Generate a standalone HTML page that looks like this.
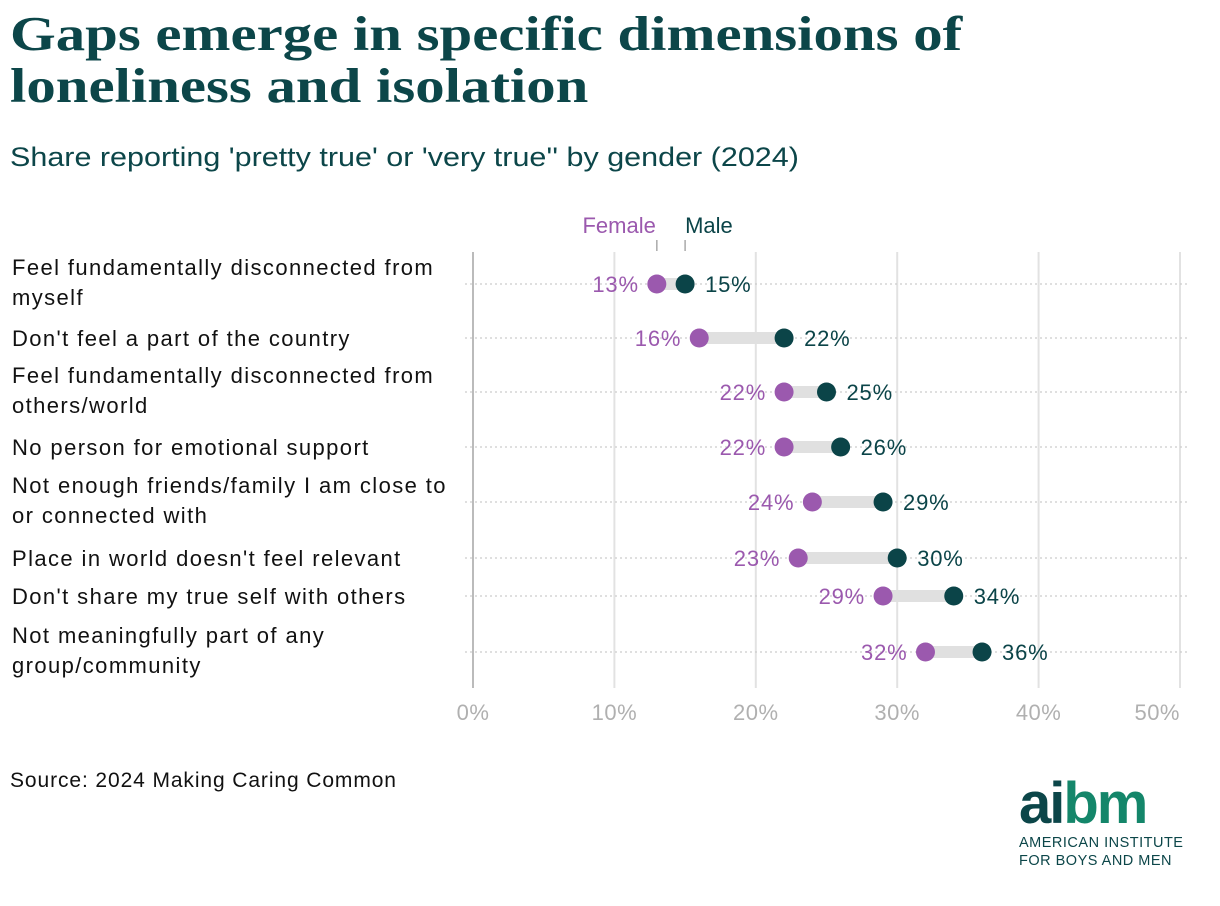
<!DOCTYPE html>
<html><head><meta charset="utf-8"><style>
body{margin:0;background:#fff;width:1220px;height:906px;overflow:hidden;font-family:"Liberation Sans",sans-serif}
.t{position:absolute;left:10px;top:8px;font-family:"Liberation Serif",serif;font-weight:bold;font-size:49px;line-height:52px;color:#0c4649;margin:0;transform:scaleX(1.2);transform-origin:left top;white-space:nowrap}
.s{position:absolute;left:10px;top:142px;font-size:27px;color:#0c4649;transform:scaleX(1.13);transform-origin:left top;white-space:nowrap}
</style></head><body>
<h1 class="t">Gaps emerge in specific dimensions of<br>loneliness and isolation</h1>
<div class="s">Share reporting 'pretty true' or 'very true'' by gender (2024)</div>
<svg id="c" width="1220" height="906" style="position:absolute;left:0;top:0"></svg>
<script>
const categories=[["Feel fundamentally disconnected from","myself"],["Don't feel a part of the country"],["Feel fundamentally disconnected from","others/world"],["No person for emotional support"],["Not enough friends/family I am close to","or connected with"],["Place in world doesn't feel relevant"],["Don't share my true self with others"],["Not meaningfully part of any","group/community"]];
const female=[13,16,22,22,24,23,29,32];
const male=[15,22,25,26,29,30,34,36];
const ticks=[0,10,20,30,40,50];
const rowY=[284,338,392,447,502,558,596,652];
const x=v=>473+v*14.14;
const svg=document.getElementById('c');const NS='http://www.w3.org/2000/svg';
function mk(t,a,txt){const e=document.createElementNS(NS,t);for(const k in a)e.setAttribute(k,a[k]);if(txt!=null)e.textContent=txt;svg.appendChild(e);return e;}
const F='#9b59ae',M='#0b4448',font='"Liberation Sans",sans-serif';
ticks.forEach((t,i)=>{const l=mk('line',{x1:x(t),x2:x(t),y1:252,y2:688,stroke:t===0?'#bbb':'#e2e2e2','stroke-width':2});


const last=i===ticks.length-1;
const tx=mk('text',{x:last?x(t):x(t),y:720,'text-anchor':last?'end':'middle','font-size':22,'letter-spacing':0.5,fill:'#b0b0b0','font-family':font},t+'%');

});
categories.forEach((c,i)=>{const y=rowY[i];
const g=mk('line',{x1:465,x2:1190,y1:y,y2:y,stroke:'#ccc','stroke-width':1.2,'stroke-dasharray':'2 3'});


const y0=c.length>1?y-9:y+8;
c.forEach((ln,j)=>{const t=mk('text',{x:12,y:y0+j*30,'font-size':22,'letter-spacing':1.4,fill:'#111','font-family':font},ln);

});
const b=mk('rect',{x:x(female[i]),y:y-6,width:x(male[i])-x(female[i]),height:12,fill:'#e0e0e0'});


const fd=mk('circle',{cx:x(female[i]),cy:y,r:9.5,fill:F});


const md=mk('circle',{cx:x(male[i]),cy:y,r:9.5,fill:M});


const fl=mk('text',{x:x(female[i])-18,y:y+8,'text-anchor':'end','font-size':22,'letter-spacing':0.8,fill:F,'font-family':font},female[i]+'%');


const ml=mk('text',{x:x(male[i])+20,y:y+8,'font-size':22,'letter-spacing':0.8,fill:M,'font-family':font},male[i]+'%');

});
const lf=mk('text',{x:x(female[0])-1,y:233,'text-anchor':'end','font-size':22,fill:F,'font-family':font},'Female');


const lm=mk('text',{x:x(male[0]),y:233,'font-size':22,fill:M,'font-family':font},'Male');


[x(female[0]),x(male[0])].forEach(px=>{const l=mk('line',{x1:px,x2:px,y1:240,y2:251,stroke:'#aaa','stroke-width':1.5});

});
const src=mk('text',{x:10,y:787,'font-size':21,'letter-spacing':0.9,fill:'#111','font-family':font},'Source: 2024 Making Caring Common');


</script>
<div style="position:absolute;left:1019px;top:774px;font-family:'Liberation Sans',sans-serif">
<div style="font-size:58px;font-weight:bold;line-height:60px;letter-spacing:-2px"><span style="color:#0c4649">ai</span><span style="color:#14866a">bm</span></div>
<div style="font-size:14.5px;color:#0c4649;line-height:18px;letter-spacing:0.5px">AMERICAN INSTITUTE<br>FOR BOYS AND MEN</div>
</div>
</body></html>
